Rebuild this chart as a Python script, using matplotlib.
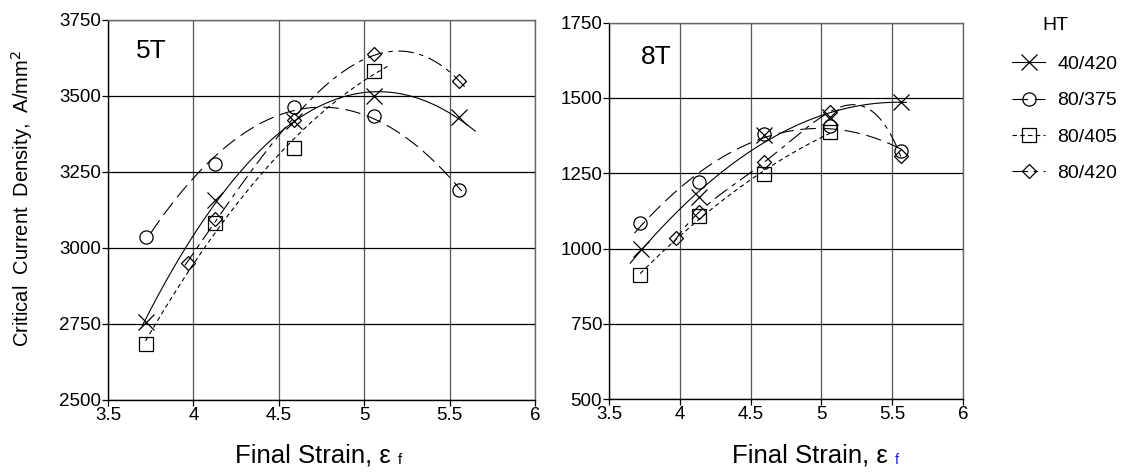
import numpy as np
import matplotlib
matplotlib.use('Agg')
import matplotlib.pyplot as plt
from matplotlib.lines import Line2D
from matplotlib.text import Annotation

plt.rcParams['font.family'] = ['Liberation Sans', 'DejaVu Sans']
plt.rcParams['axes.linewidth'] = 1.0

# heat treatments
labels = ['40/420', '80/375', '80/405', '80/420']

# 5T panel, (strain, Jc)
x5_a = [3.72, 4.125, 4.588, 5.057, 5.555]
y5_a = [2758, 3158, 3416, 3501, 3430]
x5_b = [3.72, 4.127, 4.588, 5.057, 5.557]
y5_b = [3036, 3275, 3464, 3433, 3190]
x5_c = [3.72, 4.129, 4.588, 5.059]
y5_c = [2683, 3082, 3330, 3581]
x5_d = [3.969, 4.125, 4.588, 5.055, 5.555]
y5_d = [2951, 3096, 3420, 3638, 3549]

# 8T panel
x8_a = [3.724, 4.136, 4.597, 5.06, 5.564]
y8_a = [999, 1170, 1377, 1438, 1488]
x8_b = [3.72, 4.136, 4.597, 5.06, 5.56]
y8_b = [1086, 1222, 1381, 1408, 1324]
x8_c = [3.72, 4.136, 4.597, 5.06]
y8_c = [913, 1108, 1249, 1386]
x8_d = [3.976, 4.136, 4.597, 5.06, 5.56]
y8_d = [1034, 1121, 1287, 1454, 1307]

# x extent and polynomial order of the fitted trend curves
span5 = [(3.70, 5.65), (3.75, 5.57), (3.72, 5.15), (3.95, 5.60)]
span8 = [(3.65, 5.60), (3.68, 5.57), (3.72, 5.06), (3.95, 5.565)]
deg5 = [2, 2, 2, 3]
deg8 = [2, 2, 2, 4]

markers = ['x', 'o', 's', 'D']
msizes = [11, 9.5, 9.5, 7.5]
styles = ['-', (0, (14, 6)), (0, (4, 3)), (0, (14, 5, 4, 5))]

fig = plt.figure(figsize=(11.25, 4.75), dpi=100)
ax1 = fig.add_axes([0.096, 0.158, 0.3796, 0.80])
ax2 = fig.add_axes([0.5413, 0.1594, 0.3147, 0.793])


def draw(ax, xs, ys, spans, degs, ylim, title, tpos):
    for i in range(4):
        ax.plot(xs[i], ys[i], linestyle='none', marker=markers[i], ms=msizes[i],
                mfc='none', mec='k', mew=0.9, zorder=3)
        p = np.polyfit(xs[i], ys[i], degs[i])
        xx = np.linspace(spans[i][0], spans[i][1], 200)
        ax.plot(xx, np.polyval(p, xx), color='k', lw=0.8, linestyle=styles[i], zorder=2)
    ax.set_xlim(3.5, 6)
    ax.set_ylim(*ylim)
    ax.set_xticks([3.5, 4, 4.5, 5, 5.5, 6])
    ax.set_xticklabels(['3.5', '4', '4.5', '5', '5.5', '6'])
    ax.set_yticks(np.arange(ylim[0], ylim[1] + 1, 250))
    ax.grid(True, axis='y', color='k', lw=0.9)
    ax.grid(True, axis='x', color='#555555', lw=0.9)
    ax.set_axisbelow(True)
    ax.tick_params(direction='out', length=4, width=0.9, labelsize=13.5, pad=1)
    for s in ['top', 'right']:
        ax.spines[s].set_color('#666666')
    ax.text(tpos[0], tpos[1], title, transform=ax.transAxes, fontsize=19, va='top', ha='left')


draw(ax1, [x5_a, x5_b, x5_c, x5_d], [y5_a, y5_b, y5_c, y5_d], span5, deg5,
     (2500, 3750), '5T', (0.066, 0.95))
draw(ax2, [x8_a, x8_b, x8_c, x8_d], [y8_a, y8_b, y8_c, y8_d], span8, deg8,
     (500, 1750), '8T', (0.09, 0.94))

ax1.set_ylabel(r'Critical  Current  Density,  A/mm$^2$', fontsize=14.5)
ax1.yaxis.set_label_coords(-0.17, 0.53)

# x labels with the small subscript f
for xpos, fcol in [(0.209, 'k'), (0.651, '#1f1fd0')]:
    t = fig.text(xpos, 0.026, 'Final Strain, ε', fontsize=18.5, ha='left', va='baseline')
    sub = Annotation('f', xy=(1, 0), xycoords=t, xytext=(5, 0.5), textcoords='offset points',
                     fontsize=10.5, color=fcol, va='bottom', ha='left')
    sub.set_figure(fig)
    fig.texts.append(sub)

handles = [Line2D([], [], color='k', lw=0.8, linestyle=styles[i], marker=markers[i],
                  ms=msizes[i], mfc='none', mec='k', mew=0.9) for i in range(4)]
fig.legend(handles, labels, loc='upper left', bbox_to_anchor=(0.893, 0.9),
           frameon=False, fontsize=14, handlelength=1.7, handletextpad=0.6,
           labelspacing=0.97, borderaxespad=0)
fig.text(0.938, 0.965, 'HT', fontsize=14, ha='center', va='top')

fig.savefig('out.png', dpi=100)
